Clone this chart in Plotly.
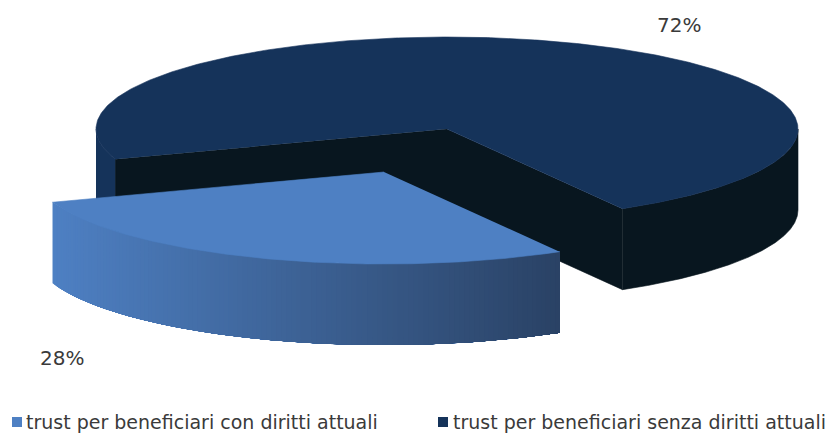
import numpy as np
import plotly.graph_objects as go

# --- data ---
categories = ["trust per beneficiari con diritti attuali", "trust per beneficiari senza diritti attuali"]
shares = [28, 72]
value_labels = ["28%", "72%"]

# --- styles ---
BLUE_TOP = "#4E80C3"
BLUE_SIDE_A = (78, 128, 195)
BLUE_SIDE_B = (42, 66, 101)
NAVY = "#15335A"
DARK = "#08161F"
TEXT = "#3A3A3A"
FONT = "DejaVu Sans"

# pie projection (axis units equal pixels)
CX, CY, RX, RY, DEPTH = 447, 129, 351, 92, 81
EXPLODE = (-63, 43)
GAP_END = 300.0  # where the small slice ends, degrees counter-clockwise from east
gap_span = 360 * shares[0] / sum(shares)
GAP_START = GAP_END - gap_span


def rim(a0, a1, cx, cy, n=200):
    t = np.radians(np.linspace(a0, a1, n))
    return cx + RX * np.cos(t), cy - RY * np.sin(t)


fig = go.Figure()


def poly(x, y, color, lw=0.6):
    fig.add_trace(go.Scatter(
        x=list(x), y=list(y), mode="lines", fill="toself", fillcolor=color,
        line=dict(color=color, width=lw), hoverinfo="skip", showlegend=False))


def side(a0, a1, cx, cy, color, lw=0.6, n=200):
    x, y = rim(a0, a1, cx, cy, n)
    poly(np.r_[x, x[::-1]], np.r_[y, y[::-1] + DEPTH], color, lw)


# large slice: outer walls
side(180, GAP_START, CX, CY, NAVY)
side(GAP_END, 360, CX, CY, DARK)

# large slice: cut faces
lx, ly = rim(GAP_START, GAP_START, CX, CY, 1)
rx, ry = rim(GAP_END, GAP_END, CX, CY, 1)
poly([CX, lx[0], lx[0], CX, rx[0], rx[0]],
     [CY, ly[0], ly[0] + DEPTH, CY + DEPTH, ry[0] + DEPTH, ry[0]], DARK)

# large slice: top
x, y = rim(GAP_END, GAP_START + 360, CX, CY, 500)
poly(np.r_[CX, x], np.r_[CY, y], NAVY)

# small slice: wall as a gradient; each band paints over the rest of the arc, so no seams show
bx, by = CX + EXPLODE[0], CY + EXPLODE[1]
strips = 120
edges = np.linspace(GAP_START, GAP_END, strips + 1)
x0 = bx + RX * np.cos(np.radians(GAP_START))
x1 = bx + RX * np.cos(np.radians(GAP_END))
for a0, a1 in zip(edges[:-1], edges[1:]):
    xm = bx + RX * np.cos(np.radians((a0 + a1) / 2))
    f = (xm - x0) / (x1 - x0)
    c = [round(p + (q - p) * f) for p, q in zip(BLUE_SIDE_A, BLUE_SIDE_B)]
    side(a0, GAP_END, bx, by, f"rgb({c[0]},{c[1]},{c[2]})", lw=0, n=60)

# small slice: top
x, y = rim(GAP_START, GAP_END, bx, by, 200)
poly(np.r_[bx, x], np.r_[by, y], BLUE_TOP)

# legend squares
fig.add_trace(go.Scatter(
    x=[17, 443], y=[422, 422], mode="markers",
    marker=dict(symbol="square", size=10, color=[BLUE_TOP, NAVY], line=dict(width=0)),
    hoverinfo="skip", showlegend=False))

annotations = [
    dict(x=62, y=358, text=value_labels[0], font=dict(size=20, color=TEXT, family=FONT),
         showarrow=False, xanchor="center", yanchor="middle"),
    dict(x=679, y=25, text=value_labels[1], font=dict(size=20, color=TEXT, family=FONT),
         showarrow=False, xanchor="center", yanchor="middle"),
    dict(x=26, y=422, text=categories[0], font=dict(size=19, color=TEXT, family=FONT),
         showarrow=False, xanchor="left", yanchor="middle", xshift=-2),
    dict(x=453, y=422, text=categories[1], font=dict(size=19, color=TEXT, family=FONT),
         showarrow=False, xanchor="left", yanchor="middle", xshift=-2),
]

fig.update_layout(
    width=832, height=434, margin=dict(l=0, r=0, t=0, b=0),
    paper_bgcolor="white", plot_bgcolor="white", showlegend=False,
    xaxis=dict(range=[0, 832], visible=False, fixedrange=True),
    yaxis=dict(range=[434, 0], visible=False, fixedrange=True),
    annotations=annotations,
)
fig.write_html("out.html", config={"displayModeBar": False},
               post_script="document.body.style.margin='0';document.documentElement.style.overflow='hidden';")
